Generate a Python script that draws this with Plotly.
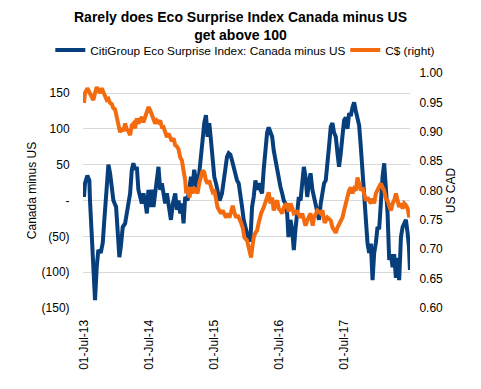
import datetime as dt
import plotly.graph_objects as go

# ---- data (dates as decimal years) ----
eco_t = [2013.500, 2013.515, 2013.551, 2013.582, 2013.592, 2013.618, 2013.643, 2013.669, 2013.695, 2013.720,
         2013.757, 2013.788, 2013.808, 2013.838, 2013.874, 2013.900, 2013.926, 2013.951, 2013.992, 2014.012,
         2014.043, 2014.065, 2014.095, 2014.131, 2014.166, 2014.208, 2014.234, 2014.258, 2014.285, 2014.311,
         2014.335, 2014.362, 2014.388, 2014.412, 2014.438, 2014.465, 2014.489, 2014.515, 2014.542, 2014.566,
         2014.592, 2014.618, 2014.643, 2014.669, 2014.695, 2014.720, 2014.746, 2014.772, 2014.797, 2014.834,
         2014.865, 2014.900, 2014.926, 2014.951, 2014.977, 2015.003, 2015.028, 2015.054, 2015.089, 2015.120,
         2015.142, 2015.166, 2015.192, 2015.218, 2015.243, 2015.269, 2015.295, 2015.320, 2015.346, 2015.372,
         2015.397, 2015.423, 2015.449, 2015.474, 2015.500, 2015.526, 2015.551, 2015.582, 2015.618, 2015.643,
         2015.669, 2015.695, 2015.720, 2015.746, 2015.772, 2015.797, 2015.823, 2015.849, 2015.874, 2015.900,
         2015.926, 2015.951, 2015.977, 2016.003, 2016.028, 2016.054, 2016.080, 2016.105, 2016.131, 2016.157,
         2016.182, 2016.208, 2016.234, 2016.258, 2016.285, 2016.311, 2016.335, 2016.362, 2016.388, 2016.412,
         2016.438, 2016.465, 2016.489, 2016.515, 2016.542, 2016.566, 2016.592, 2016.618, 2016.638, 2016.669,
         2016.695, 2016.720, 2016.746, 2016.772, 2016.797, 2016.823, 2016.849, 2016.874, 2016.900, 2016.926,
         2016.951, 2016.977, 2017.003, 2017.028, 2017.054, 2017.080, 2017.105, 2017.131, 2017.157, 2017.182,
         2017.208, 2017.234, 2017.258, 2017.285, 2017.311, 2017.335, 2017.362, 2017.388, 2017.412, 2017.438,
         2017.465, 2017.489, 2017.515, 2017.542, 2017.566, 2017.592, 2017.618, 2017.643, 2017.669, 2017.695,
         2017.720, 2017.746, 2017.772, 2017.797, 2017.823, 2017.849, 2017.874, 2017.900, 2017.926, 2017.951,
         2017.977, 2018.003, 2018.028, 2018.054, 2018.080, 2018.105, 2018.131, 2018.157, 2018.182, 2018.208,
         2018.234, 2018.258, 2018.285, 2018.311, 2018.335, 2018.362, 2018.388, 2018.412, 2018.438, 2018.465,
         2018.485, 2018.500]
eco_vals = [5, 24, 35, 28, 0, -51, -79, -139, -93, -69,
            -73, -59, -32, 15, 50, 38, 19, 0, -9, -37,
            -79, -65, -37, -32, -13, 10, 43, 52, 43, 47,
            15, 5, -4, 10, 0, -18, 15, -9, 15, -9,
            10, 28, 47, 15, 24, 10, -4, 10, -9, -27,
            -4, 10, -13, 0, -18, -4, -32, 5, 0, 19,
            33, 19, 43, 28, 15, 38, 70, 84, 108, 119,
            89, 108, 84, 61, 33, 24, 15, 0, 10, 28,
            47, 61, 66, 64, 56, 47, 33, 28, 24, 10,
            -9, -27, -37, -46, -55, -55, -9, 5, 28, 15,
            24, 15, 10, 43, 70, 95, 102, 94, 89, 70,
            56, 47, 33, 19, 10, 0, -4, -18, -51, -27,
            -41, -69, -40, -18, 5, 0, 28, 47, 33, 5,
            24, 38, 15, 5, -9, -18, -27, -4, 15, 24,
            28, 61, 75, 103, 108, 95, 89, 66, 47, 66,
            94, 112, 116, 100, 122, 118, 130, 137, 125, 116,
            105, 75, 43, 20, -30, -60, -73, -60, -111, -73,
            -59, -37, -40, 0, 33, 52, 19, -18, -83, -75,
            -93, -75, -108, -80, -111, -51, -37, -32, -27, -46,
            -65, -97]

cad_t = [2013.500, 2013.515, 2013.551, 2013.582, 2013.618, 2013.643, 2013.669, 2013.695, 2013.720, 2013.746,
         2013.772, 2013.797, 2013.823, 2013.849, 2013.874, 2013.900, 2013.926, 2013.951, 2013.977, 2014.003,
         2014.028, 2014.054, 2014.080, 2014.105, 2014.131, 2014.157, 2014.182, 2014.208, 2014.234, 2014.258,
         2014.285, 2014.311, 2014.335, 2014.362, 2014.388, 2014.412, 2014.438, 2014.465, 2014.489, 2014.515,
         2014.542, 2014.566, 2014.592, 2014.618, 2014.643, 2014.669, 2014.695, 2014.720, 2014.746, 2014.772,
         2014.797, 2014.823, 2014.849, 2014.874, 2014.900, 2014.926, 2014.951, 2014.977, 2015.003, 2015.028,
         2015.054, 2015.069, 2015.089, 2015.120, 2015.142, 2015.166, 2015.192, 2015.218, 2015.243, 2015.269,
         2015.295, 2015.320, 2015.346, 2015.372, 2015.397, 2015.423, 2015.449, 2015.474, 2015.500, 2015.526,
         2015.551, 2015.577, 2015.603, 2015.628, 2015.654, 2015.680, 2015.705, 2015.731, 2015.757, 2015.782,
         2015.808, 2015.834, 2015.858, 2015.885, 2015.911, 2015.935, 2015.962, 2016.003, 2016.028, 2016.065,
         2016.080, 2016.105, 2016.131, 2016.157, 2016.182, 2016.218, 2016.258, 2016.300, 2016.335, 2016.362,
         2016.388, 2016.412, 2016.438, 2016.465, 2016.489, 2016.515, 2016.542, 2016.566, 2016.608, 2016.643,
         2016.669, 2016.695, 2016.720, 2016.772, 2016.823, 2016.849, 2016.874, 2016.900, 2016.926, 2016.977,
         2017.008, 2017.028, 2017.080, 2017.131, 2017.157, 2017.192, 2017.234, 2017.285, 2017.311, 2017.362,
         2017.388, 2017.412, 2017.438, 2017.465, 2017.489, 2017.515, 2017.542, 2017.566, 2017.592, 2017.618,
         2017.643, 2017.669, 2017.695, 2017.720, 2017.746, 2017.772, 2017.797, 2017.823, 2017.849, 2017.874,
         2017.900, 2017.926, 2017.951, 2017.977, 2018.003, 2018.028, 2018.054, 2018.080, 2018.105, 2018.131,
         2018.157, 2018.182, 2018.208, 2018.234, 2018.258, 2018.285, 2018.311, 2018.335, 2018.362, 2018.388,
         2018.412, 2018.438, 2018.465, 2018.489]
cad_vals = [0.949, 0.966, 0.974, 0.967, 0.959, 0.954, 0.966, 0.976, 0.971, 0.966,
            0.974, 0.966, 0.962, 0.954, 0.956, 0.949, 0.947, 0.940, 0.938, 0.925,
            0.914, 0.899, 0.906, 0.901, 0.914, 0.904, 0.901, 0.894, 0.911, 0.914,
            0.906, 0.923, 0.914, 0.919, 0.925, 0.916, 0.925, 0.933, 0.942, 0.937,
            0.928, 0.925, 0.914, 0.919, 0.916, 0.919, 0.908, 0.908, 0.897, 0.891,
            0.897, 0.889, 0.884, 0.889, 0.877, 0.875, 0.870, 0.856, 0.851, 0.834,
            0.817, 0.795, 0.806, 0.788, 0.806, 0.795, 0.803, 0.801, 0.795, 0.812,
            0.822, 0.834, 0.831, 0.817, 0.812, 0.817, 0.806, 0.798, 0.801, 0.783,
            0.771, 0.766, 0.761, 0.766, 0.758, 0.754, 0.761, 0.754, 0.763, 0.774,
            0.763, 0.754, 0.758, 0.752, 0.745, 0.737, 0.720, 0.715, 0.703, 0.686,
            0.700, 0.720, 0.728, 0.732, 0.745, 0.761, 0.771, 0.783, 0.797, 0.778,
            0.788, 0.766, 0.778, 0.783, 0.769, 0.766, 0.761, 0.771, 0.778, 0.764,
            0.778, 0.771, 0.761, 0.764, 0.754, 0.761, 0.749, 0.740, 0.749, 0.761,
            0.740, 0.754, 0.766, 0.761, 0.766, 0.745, 0.754, 0.749, 0.737, 0.728,
            0.737, 0.742, 0.745, 0.754, 0.766, 0.778, 0.788, 0.800, 0.805, 0.795,
            0.803, 0.800, 0.822, 0.812, 0.800, 0.805, 0.795, 0.783, 0.788, 0.783,
            0.778, 0.786, 0.778, 0.795, 0.800, 0.805, 0.812, 0.805, 0.800, 0.786,
            0.783, 0.774, 0.766, 0.778, 0.783, 0.795, 0.781, 0.772, 0.778, 0.769,
            0.778, 0.775, 0.769, 0.754]

left_tickvals = [-150, -100, -50, 0, 50, 100, 150]
left_ticktext = ["(150)", "(100)", "(50)", "-", "50", "100", "150"]
right_tickvals = [0.60, 0.65, 0.70, 0.75, 0.80, 0.85, 0.90, 0.95, 1.00]
x_tickvals = ["2013-07-01", "2014-07-01", "2015-07-01", "2016-07-01", "2017-07-01"]
x_ticktext = ["01-Jul-13", "01-Jul-14", "01-Jul-15", "01-Jul-16", "01-Jul-17"]


def to_date(t):
    y = int(t)
    return dt.datetime(y, 1, 1) + dt.timedelta(days=(t - y) * 365.25)


BLUE = "#073F7D"
ORANGE = "#F36B0E"
FONT = "Arial, Liberation Sans, sans-serif"

fig = go.Figure()
fig.add_trace(go.Scatter(x=[to_date(t) for t in eco_t], y=eco_vals, mode="lines",
                         name="CitiGroup Eco Surprise Index: Canada minus US",
                         line=dict(color=BLUE, width=4), legend="legend"))
fig.add_trace(go.Scatter(x=[to_date(t) for t in cad_t], y=cad_vals, mode="lines",
                         name="C$ (right)", yaxis="y2",
                         line=dict(color=ORANGE, width=4), legend="legend2"))

fig.update_layout(
    width=481, height=389,
    margin=dict(l=83, r=71, t=73, b=81),
    paper_bgcolor="white", plot_bgcolor="white",
    font=dict(family=FONT, size=12, color="#000000"),
    title=dict(text="<b>Rarely does Eco Surprise Index Canada minus US<br>get above 100</b>",
               x=0.5, xanchor="center", y=0.943, yanchor="top",
               font=dict(family=FONT, size=14, color="#000000")),
    showlegend=True,
    legend=dict(orientation="h", x=-0.100, xanchor="left", y=1.098, yanchor="middle",
                font=dict(family=FONT, size=11.8), bgcolor="rgba(0,0,0,0)",
                itemwidth=30, tracegroupgap=0),
    legend2=dict(orientation="h", x=0.802, xanchor="left", y=1.098, yanchor="middle",
                 font=dict(family=FONT, size=11.8), bgcolor="rgba(0,0,0,0)",
                 itemwidth=30),
    xaxis=dict(type="date", range=["2013-06-27", "2018-07-03"],
               tickvals=x_tickvals, ticktext=x_ticktext, tickangle=-90,
               ticks="outside", ticklen=6, tickcolor="rgba(0,0,0,0)",
               showgrid=False, zeroline=False, showline=False,
               tickfont=dict(size=12)),
    yaxis=dict(range=[-150, 178], tickvals=left_tickvals, ticktext=left_ticktext,
               showgrid=True, gridcolor="#D9D9D9", gridwidth=1, zeroline=False,
               ticks="outside", ticklen=10, tickcolor="rgba(0,0,0,0)",
               title=dict(text="Canada minus US", standoff=2, font=dict(size=12)),
               tickfont=dict(size=12)),
    yaxis2=dict(range=[0.60, 1.00], overlaying="y", side="right",
                tickvals=right_tickvals, tickformat=".2f", showgrid=False, zeroline=False,
                ticks="outside", ticklen=6, tickcolor="rgba(0,0,0,0)",
                title=dict(text="US CAD", standoff=4, font=dict(size=12)),
                tickfont=dict(size=12)),
)

fig.write_html("out.html", config={"displayModeBar": False},
               post_script="document.body.style.margin='0';document.body.style.padding='0';")
